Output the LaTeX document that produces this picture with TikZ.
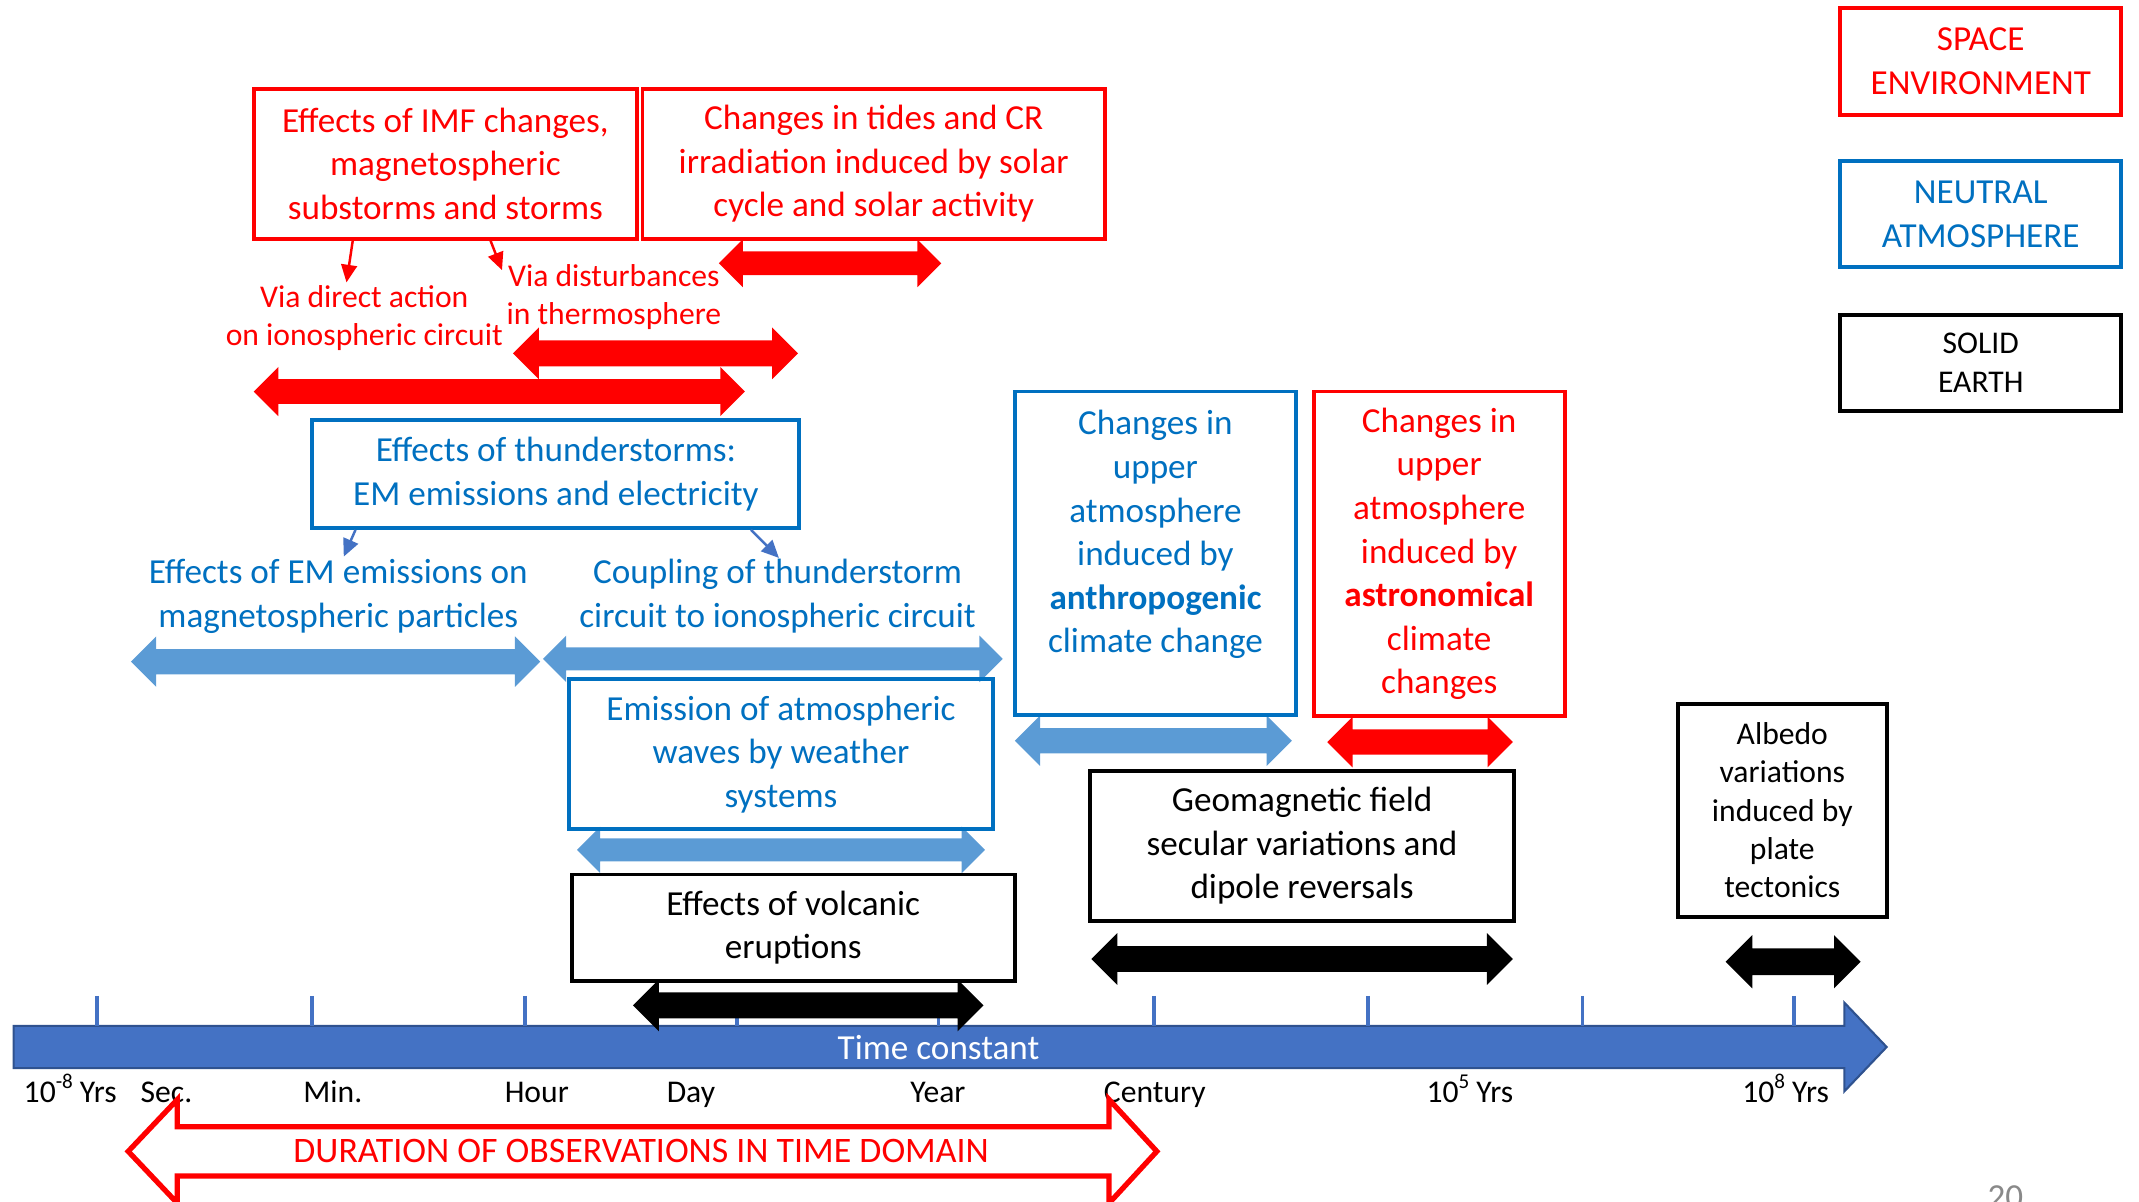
\documentclass[tikz,border=0pt]{standalone}
\usepackage{fontspec}
\setmainfont{Carlito}
\usetikzlibrary{arrows.meta,calc}
\definecolor{cred}{HTML}{FF0000}
\definecolor{cblue}{HTML}{0070C0}
\definecolor{clight}{HTML}{5B9BD5}
\definecolor{ctime}{HTML}{4472C4}
\definecolor{ctimeedge}{HTML}{2F528F}
\definecolor{cgray}{HTML}{898989}
\def\U{0.013642cm}
\newcommand\dblarr[5]{%
 \fill[#1] (#2,#4) -- ({#2+0.5*#5},{#4-0.5*#5}) -- ({#2+0.5*#5},{#4-0.25*#5}) -- ({#3-0.5*#5},{#4-0.25*#5}) -- ({#3-0.5*#5},{#4-0.5*#5}) -- (#3,#4) -- ({#3-0.5*#5},{#4+0.5*#5}) -- ({#3-0.5*#5},{#4+0.25*#5}) -- ({#2+0.5*#5},{#4+0.25*#5}) -- ({#2+0.5*#5},{#4+0.5*#5}) -- cycle;}
\tikzset{
 mainfont/.style={font=\fontsize{10}{12.4}\selectfont},
 smallfont/.style={font=\fontsize{9}{10.9}\selectfont},
 box/.style={draw, line width=1.1pt, inner sep=0pt, align=center, mainfont},
 redbox/.style={box, draw=cred, text=cred},
 bluebox/.style={box, draw=cblue, text=cblue},
 blackbox/.style={box, draw=black, text=black},
 sz/.style 2 args={minimum width=#1*\U, minimum height=#2*\U},
 lbl/.style={inner sep=0pt, align=center, mainfont},
 redlink/.style={draw=cred, line width=0.7pt, -{Triangle[length=5pt,width=4.5pt]}},
 bluelink/.style={draw=ctime, line width=0.7pt, -{Triangle[length=5pt,width=4.5pt]}},
 axislbl/.style={inner sep=0pt, anchor=base, font=\fontsize{9}{10.9}\selectfont}
}
\begin{document}
\begin{tikzpicture}[x=\U, y=-\U]
\useasboundingbox (0,0) rectangle (1568,881);

% time axis
\fill[ctime, draw=ctimeedge, line width=0.6pt] (10,752) -- (1352,752) -- (1352,735) -- (1383,767.5) -- (1352,800) -- (1352,783) -- (10,783) -- cycle;
\foreach \x in {71,229,385,540,688,846,1003,1160,1315}
  \draw[ctime, line width=1.1pt] (\x,730) -- (\x,752);
\node[inner sep=0pt, anchor=base, text=white, mainfont] (tc) at (688,777) {Time constant};

% block arrows
\dblarr{cred}{527}{690}{193}{35}
\dblarr{cred}{376}{585}{259}{38}
\dblarr{cred}{186}{546}{287}{36}
\dblarr{clight}{96}{396}{485}{37}
\dblarr{clight}{398}{735}{483}{34}
\dblarr{clight}{423}{722}{623}{34}
\dblarr{black}{464}{721}{737}{38}
\dblarr{clight}{744}{947}{543}{37}
\dblarr{cred}{973}{1109}{544}{37}
\dblarr{black}{800}{1109}{703}{38}
\dblarr{black}{1265}{1364}{705}{39}

% boxes
\node[redbox, sz={281}{110}] (imf) at (326.5,120) {Effects of IMF changes,\\magnetospheric\\substorms and storms};
\node[redbox, sz={339}{110}] (tides) at (640.5,120) {Changes in tides and CR\\irradiation induced by solar\\cycle and solar activity};
\node[bluebox, sz={357}{79}] (thunder) at (407.5,347.5) {Effects of thunderstorms:\\EM emissions and electricity};
\node[bluebox, sz={311}{110}] (waves) at (572.5,553) {Emission of atmospheric\\waves by weather\\systems};
\node[blackbox, sz={325}{78}] (volc) at (581.5,680) {Effects of volcanic\\eruptions};
\node[bluebox, sz={206}{237}] (anthro) at (847,405.5) {Changes in\\upper\\atmosphere\\induced by\\\textbf{anthropogenic}\\climate change\\[-3.9pt]\strut};
\node[redbox, sz={184}{238}] (astro) at (1055,406) {Changes in\\upper\\atmosphere\\induced by\\\textbf{astronomical}\\climate\\changes};
\node[blackbox, sz={311}{110}] (geo) at (954.5,620) {Geomagnetic field\\secular variations and\\dipole reversals};
\node[blackbox, sz={153}{156}, smallfont] (albedo) at (1306.5,594) {Albedo\\variations\\induced by\\plate\\tectonics};

% legend
\node[redbox, sz={206}{78}] (lspace) at (1452,45) {SPACE\\ENVIRONMENT};
\node[bluebox, sz={206}{78}] (lneutral) at (1452,157) {NEUTRAL\\ATMOSPHERE};
\node[blackbox, sz={206}{70}, smallfont] (lsolid) at (1452,266) {SOLID\\EARTH};

% free labels
\node[lbl, smallfont, text=cred] (via1) at (267,233) {Via direct action\\on ionospheric circuit};
\node[lbl, smallfont, text=cred] (via2) at (450,218) {Via disturbances\\in thermosphere};
\node[lbl, text=cblue] (emeff) at (248,437) {Effects of EM emissions on\\magnetospheric particles};
\node[lbl, text=cblue] (coupl) at (570,437) {Coupling of thunderstorm\\circuit to ionospheric circuit};

% connectors
\coordinate (t1) at (254,207);
\coordinate (t2) at (368,198);
\draw[redlink] ($(imf.south west)+(74,0)$) -- (t1);
\draw[redlink] ($(imf.south west)+(175,0)$) -- (t2);
\coordinate (t3) at (252,408);
\coordinate (t4) at (571,409);
\draw[bluelink] ($(thunder.south west)+(33,0)$) -- (t3);
\draw[bluelink] ($(thunder.south west)+(323,0)$) -- (t4);

% axis labels
\node[axislbl] (l1) at (51.5,808) {10\textsuperscript{-8}\,Yrs};
\node[axislbl] (l2) at (122,808) {Sec.};
\node[axislbl] (l3) at (244,808) {Min.};
\node[axislbl] (l4) at (393.5,808) {Hour};
\node[axislbl] (l5) at (506.5,808) {Day};
\node[axislbl] (l6) at (687.5,808) {Year};
\node[axislbl] (l7) at (846.5,808) {Century};
\node[axislbl] (l8) at (1077.5,808) {10\textsuperscript{5}\,Yrs};
\node[axislbl] (l9) at (1309,808) {10\textsuperscript{8}\,Yrs};

% duration arrow
\draw[cred, line width=1.5pt, fill=white, line join=miter] (94,844) -- (130,806) -- (130,826) -- (813,826) -- (813,806) -- (848,844) -- (813,882) -- (813,862) -- (130,862) -- (130,882) -- cycle;
\node[lbl, text=cred, font=\fontsize{10.2}{12.4}\selectfont] (dur) at (470,844) {DURATION OF OBSERVATIONS IN TIME DOMAIN};

% page number
\node[inner sep=0pt, anchor=base, text=cgray, mainfont] (pg) at (1470,886) {20};
\end{tikzpicture}
\end{document}
